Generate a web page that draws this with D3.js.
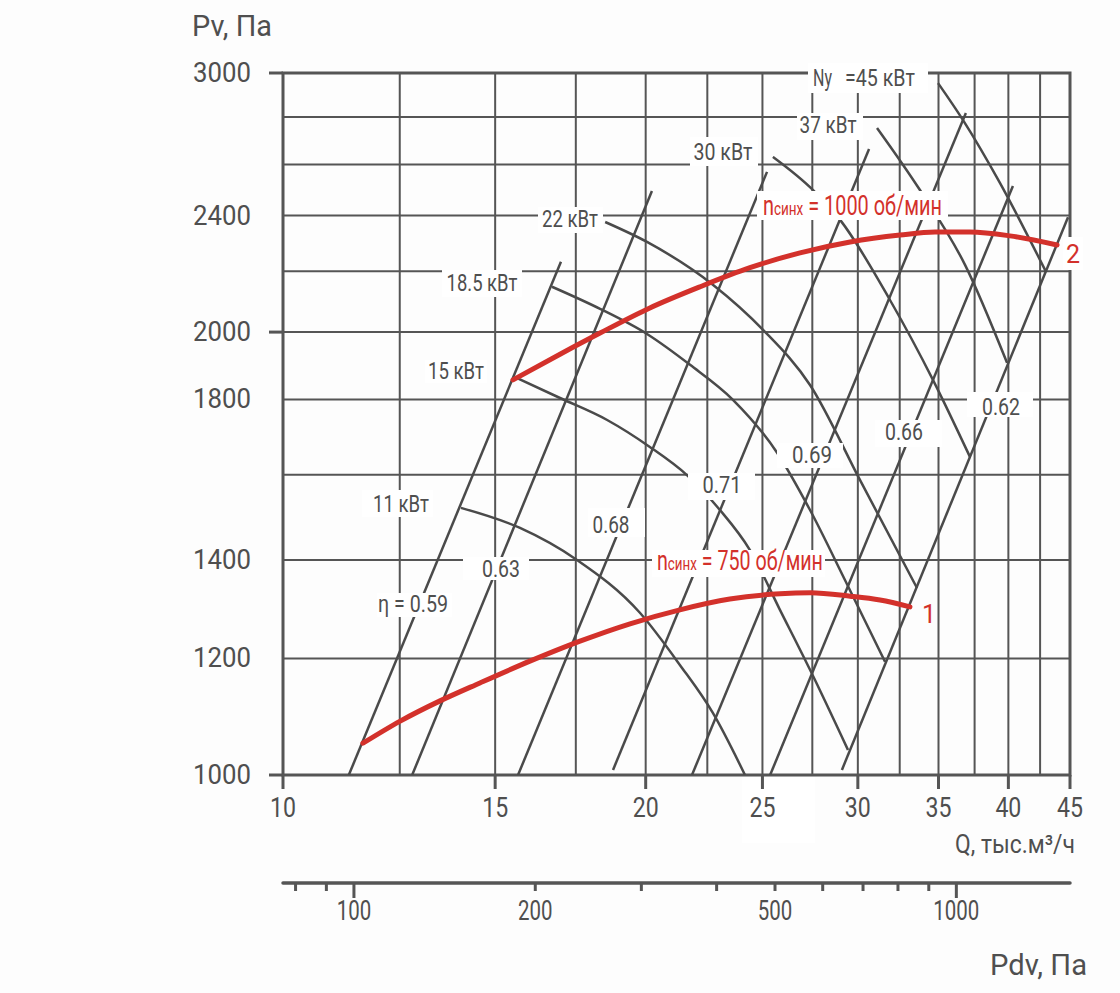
<!DOCTYPE html>
<html>
<head>
<meta charset="utf-8">
<script src="https://cdn.jsdelivr.net/npm/d3@7"></script>
<style>
  body { margin: 0; background: #fdfdfd; }
  svg { display: block; font-family: Roboto, sans-serif; }
</style>
</head>
<body>
<svg id="chart"></svg>
<script>
// axes
const qTicks = [10, 15, 20, 25, 30, 35, 40, 45];
const qGrid = [12.5, 15, 17.5, 20, 22.5, 25, 27.5, 30, 32.5, 35, 37.5, 40, 42.5];
const pvTicks = [1000, 1200, 1400, 1800, 2000, 2400, 3000];
const pvGrid = [1200, 1400, 1600, 1800, 2000, 2200, 2400, 2600, 2800];
const pvLongTicks = [1000, 2000, 3000];
const pdvTicks = [80, 90, 100, 200, 300, 400, 500, 600, 700, 800, 900, 1000];
const pdvLabels = [100, 200, 500, 1000];
const pdvLongTicks = [100, 1000];
const pdvPerQ2 = 0.7625; // Pdv = k * Q^2

// efficiency lines (straight in log-log), start and end as [Q, Pv]
const etaNames = ["0.59", "0.63", "0.68", "0.71", "0.69", "0.66", "0.62"];
const etaStart = [[11.34, 1000], [12.80, 1000], [15.67, 1000], [18.79, 1008], [21.85, 1000], [25.37, 1000], [29.10, 1008]];
const etaEnd = [[17.01, 2233], [20.24, 2494], [25.22, 2570], [30.65, 2664], [36.88, 2818], [40.35, 2514], [44.83, 2394]];

// motor power lines, [Q, Pv]
const powerNames = ["11 кВт", "15 кВт", "18.5 кВт", "22 кВт", "30 кВт", "37 кВт", "45 кВт"];
const n11 = [[14.05, 1519], [15.73, 1472], [17.54, 1400], [19.78, 1289], [21.35, 1188], [22.74, 1102], [24.18, 1000]];
const n15 = [[15.58, 1864], [16.98, 1804], [18.58, 1743], [20.16, 1671], [21.64, 1599], [23.05, 1514], [24.41, 1422], [25.85, 1295], [27.38, 1179], [29.44, 1040]];
const n18 = [[16.72, 2147], [18.33, 2074], [20.05, 1994], [21.77, 1900], [23.63, 1799], [25.71, 1656], [27.38, 1514], [29.27, 1357], [31.60, 1194]];
const n22 = [[18.51, 2376], [20.05, 2303], [22.74, 2154], [25.03, 2007], [27.38, 1841], [30.12, 1587], [33.59, 1340]];
const n30 = [[25.51, 2631], [27.54, 2498], [29.00, 2384], [31.90, 2103], [34.63, 1856], [37.17, 1645]];
const n37 = [[31.12, 2753], [33.78, 2498], [36.82, 2222], [39.90, 1906]];
const n45 = [[34.97, 2953], [36.68, 2787], [39.37, 2525], [42.98, 2198]];

// fan curves, [Q, Pv]
const rpm750 = [[11.65, 1051], [12.51, 1088], [13.50, 1123], [14.57, 1155], [16.03, 1195], [17.64, 1233], [19.41, 1267], [21.35, 1295], [23.49, 1317], [25.85, 1328], [27.38, 1330], [29.56, 1323], [31.30, 1315], [33.14, 1301]];
const rpm1000 = [[15.52, 1856], [16.98, 1932], [18.33, 1997], [20.16, 2077], [22.19, 2147], [24.41, 2212], [26.86, 2264], [29.56, 2303], [32.52, 2328], [34.77, 2339], [37.17, 2339], [40.12, 2325], [43.90, 2292]];

const W = 1120, H = 993;
const ink = "#555", txt = "#4f4f4f", red = "#d3312b";

const svg = d3.select("#chart").attr("width", W).attr("height", H);
svg.append("rect").attr("width", W).attr("height", H).attr("fill", "#fdfdfd");

const x = d3.scaleLog().domain([10, 45]).range([283, 1070]);
const y = d3.scaleLog().domain([1000, 3000]).range([775, 73]);
const xPdv = d3.scaleLog().domain(x.domain().map(q => pdvPerQ2 * q * q)).range(x.range());

// white patch behind the 25/30 labels
svg.append("rect").attr("x", 742).attr("y", 777).attr("width", 73).attr("height", 66).attr("fill", "#fff");

svg.append("clipPath").attr("id", "plot")
  .append("rect").attr("x", x(10)).attr("y", y(3000)).attr("width", x(45) - x(10)).attr("height", y(1000) - y(3000));

// grid
const grid = svg.append("g").attr("stroke", ink).attr("stroke-width", 2);
grid.selectAll("line.v").data(qGrid).enter().append("line").attr("class", "v")
  .attr("x1", d => x(d)).attr("x2", d => x(d)).attr("y1", y(1000)).attr("y2", y(3000));
grid.selectAll("line.h").data(pvGrid).enter().append("line").attr("class", "h")
  .attr("x1", x(10)).attr("x2", x(45)).attr("y1", d => y(d)).attr("y2", d => y(d));

// frame and ticks
const frame = svg.append("g").attr("stroke", ink).attr("stroke-width", 3).attr("fill", "none");
frame.append("rect").attr("x", x(10)).attr("y", y(3000)).attr("width", x(45) - x(10)).attr("height", y(1000) - y(3000));
frame.selectAll("line.lt").data(pvLongTicks).enter().append("line").attr("class", "lt")
  .attr("x1", x(10) - 14).attr("x2", x(10)).attr("y1", d => y(d)).attr("y2", d => y(d));
frame.selectAll("line.bt").data(qTicks).enter().append("line").attr("class", "bt")
  .attr("x1", d => x(d)).attr("x2", d => x(d)).attr("y1", y(1000)).attr("y2", y(1000) + 14);

const line = d3.line().x(d => x(d[0])).y(d => y(d[1]));
const curve = d3.line().x(d => x(d[0])).y(d => y(d[1])).curve(d3.curveMonotoneX);

const plot = svg.append("g").attr("clip-path", "url(#plot)").attr("fill", "none");

// efficiency lines
plot.append("g").attr("stroke", "#4a4a4a").attr("stroke-width", 2.5)
  .selectAll("path").data(etaNames).enter().append("path")
  .attr("d", (d, i) => line([etaStart[i], etaEnd[i]]));

// power lines
plot.append("g").attr("stroke", "#4a4a4a").attr("stroke-width", 2.5)
  .selectAll("path").data([n11, n15, n18, n22, n30, n37, n45]).enter().append("path")
  .attr("d", d => curve(d));

// fan curves
plot.append("g").attr("stroke", red).attr("stroke-width", 5).attr("stroke-linecap", "round")
  .selectAll("path").data([rpm750, rpm1000]).enter().append("path")
  .attr("d", d => curve(d));

// text helper: squeeze glyphs to the measured width
function put(g, str, px, base, w, size, color, anchor) {
  const t = g.append("text").attr("font-size", size).attr("fill", color)
    .attr("text-anchor", anchor || "middle").text(str);
  const k = w ? w / t.node().getComputedTextLength() : 1;
  t.attr("transform", `translate(${px},${base}) scale(${k},1)`);
  return t;
}

// annotation boxes [x0, y0, x1, y1]
const boxes = [
  [808, 63, 928, 93], [797, 113, 863, 140], [690, 137, 758, 166], [538, 207, 603, 233],
  [442, 270, 522, 297], [425, 360, 487, 383], [362, 490, 433, 517],
  [377, 593, 452, 617], [463, 557, 529, 580], [588, 508, 645, 537], [688, 473, 755, 500],
  [777, 443, 843, 468], [875, 420, 942, 447], [967, 392, 1033, 417],
  [757, 191, 948, 220], [652, 550, 825, 577], [1063, 237, 1083, 270]
];
svg.append("g").attr("fill", "#fff").selectAll("rect").data(boxes).enter().append("rect")
  .attr("x", d => d[0]).attr("y", d => d[1]).attr("width", d => d[2] - d[0]).attr("height", d => d[3] - d[1]);

const ann = svg.append("g");
// power labels
const powerPos = [[401, 512, 56], [456, 379, 56], [482, 291, 71], [570, 227, 56], [723, 160, 59], [828, 133, 57], [880, 86, 70]];
powerNames.forEach((s, i) => {
  const p = powerPos[i];
  if (i === powerNames.length - 1) {
    put(ann, "Ny", 813, p[1], 19, 24, txt, "start");
    put(ann, "=" + s, 845, p[1], p[2], 24, txt, "start");
  } else {
    put(ann, s, p[0], p[1], p[2], 24, txt);
  }
});
// efficiency labels
const etaPos = [[413, 612, 70], [501, 577, 38], [611, 533, 37], [722, 493, 39], [812, 463, 40], [904, 440, 38], [1001, 415, 38]];
etaNames.forEach((s, i) => {
  const p = etaPos[i];
  put(ann, i === 0 ? "η = " + s : s, p[0], p[1], p[2], 24, txt);
});

// red speed labels
function speed(px, base, w, num) {
  const t = ann.append("text").attr("fill", red).attr("font-size", 28);
  t.append("tspan").text("n");
  t.append("tspan").attr("font-size", 19).text("синх");
  t.append("tspan").text(" = " + num + " об/мин");
  const k = w / t.node().getComputedTextLength();
  t.attr("transform", `translate(${px},${base}) scale(${k},1)`);
}
speed(763, 215, 179, "1000");
speed(657, 570, 166, "750");
put(ann, "1", x(rpm750[rpm750.length - 1][0]) + 19, 623, 0, 25, red);
put(ann, "2", x(rpm1000[rpm1000.length - 1][0]) + 16, 263, 0, 25, red);

// axis labels
const axt = svg.append("g");
pvTicks.forEach(v => put(axt, String(v), 251, y(v) + 9, 58, 28, txt, "end"));
qTicks.forEach(v => put(axt, String(v), x(v), 817, 26, 28, txt));
put(axt, "Pv, Па", 192, 36, 80, 30, txt, "start");
put(axt, "Q, тыс.м³/ч", 1075, 853, 120, 26, txt, "end");

// dynamic pressure axis
const pdvY = 883;
const pdv = svg.append("g").attr("stroke", ink).attr("stroke-width", 3.5);
pdv.append("line").attr("x1", x(10)).attr("x2", x(45)).attr("y1", pdvY).attr("y2", pdvY).attr("stroke-linecap", "round");
pdv.selectAll("line.t").data(pdvTicks).enter().append("line").attr("class", "t")
  .attr("x1", d => xPdv(d)).attr("x2", d => xPdv(d)).attr("y1", pdvY)
  .attr("y2", d => pdvY + (pdvLongTicks.includes(d) ? 15 : 8)).attr("stroke-width", 3);
pdvLabels.forEach(v => put(axt, String(v), xPdv(v), 920, String(v).length * 11.5, 27, txt));
put(axt, "Pdv, Па", 1087, 975, 97, 30, txt, "end");
</script>
</body>
</html>
